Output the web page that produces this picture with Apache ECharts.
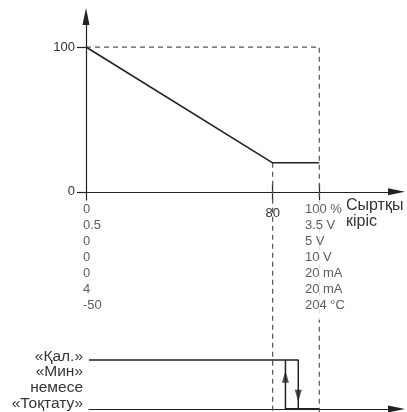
<!DOCTYPE html>
<html>
<head>
<meta charset="utf-8">
<script src="https://cdn.jsdelivr.net/npm/echarts@6/dist/echarts.min.js"></script>
<style>
html,body{margin:0;padding:0;background:#fff;}
#c{width:407px;height:412px;}
</style>
</head>
<body>
<div id="c"></div>
<script>
// ---- data ----
const curveX = [0, 80, 100];
const curveY = [100, 20, 20];
const yTicks = [0, 100];
const xTickLabelValues = [80];
const xTicks = [80, 100];
const leftColumn = ['0', '0.5', '0', '0', '0', '4', '-50'];
const rightColumn = ['100 %', '3.5 V', '5 V', '10 V', '20 mA', '20 mA', '204 °C'];
const columnAt = [0, 100];
const axisName = 'Сыртқы\nкіріс';
const stateHigh = 1, stateLow = 0;
const switchOn = 85.5;   // relay returns to "Қал." (up arrow)
const switchOff = 91;    // relay goes to "Мин"/"Тоқтату" (down arrow)
const lowEnd = 100;
const highLabel = ['«Қал.»'];
const lowLabel = ['«Мин»', 'немесе', '«Тоқтату»'];

// ---- layout (styles) ----
const W = 407, H = 412;
const FONT = '"Liberation Sans", Arial, sans-serif';
const ink = '#222';
const textColor = '#333';
const dashColor = '#555';
const up = {left: 86, right: 10.5, top: 16.5, bottom: 212, xMax: 133.1, yMin: -5.7, yMax: 121.1};
const lo = {left: 89, right: 10.5, top: 360, bottom: 3, xMin: 1.29, xMax: 133.1};
const pxPerY = (H - up.top - up.bottom) / (up.yMax - up.yMin);
const zeroPy = up.top + up.yMax * pxPerY;
const yCanvasBottom = -(H - zeroPy) / pxPerY;

const chart = echarts.init(document.getElementById('c'), null, {renderer: 'canvas'});

const line = curveX.map((x, i) => [x, curveY[i]]);
const guide100 = [[curveX[0], yTicks[1]], [curveX[2], yTicks[1]], [curveX[2], yCanvasBottom]];
const guide80 = [[curveX[1], curveY[1]], [curveX[1], yCanvasBottom]];

const columnTexts = [leftColumn, rightColumn];
const columnOffsets = [[-3, 9.5], [-14.3, 9.5]];
const columnBg = ['transparent', '#fff'];

// label lines + a bottom spacer line to lift the block (spacer height in px)
const lowerLabelAxis = (value, lines, spacer) => ({
  type: 'value', gridIndex: 1, min: stateLow, max: stateHigh, position: 'left',
  splitLine: {show: false}, axisLine: {show: false}, axisTick: {show: false},
  axisLabel: {
    customValues: [value], margin: 6, color: textColor, fontFamily: FONT,
    align: 'right', verticalAlign: 'middle',
    formatter: () => lines.map(s => '{t|' + s + '}').join('\n') + '\n{s| }',
    rich: {
      t: {fontSize: 15.5, lineHeight: 16, color: textColor, fontFamily: FONT},
      s: {fontSize: 1, lineHeight: spacer}
    }
  }
});

const option = {
  animation: false,
  textStyle: {fontFamily: FONT},
  grid: [
    {left: up.left, right: up.right, top: up.top, bottom: up.bottom, containLabel: false, outerBoundsMode: 'none'},
    {left: lo.left, right: lo.right, top: lo.top, bottom: lo.bottom, containLabel: false, outerBoundsMode: 'none'}
  ],
  xAxis: [
    {
      type: 'value', gridIndex: 0, min: 0, max: up.xMax, position: 'bottom',
      splitLine: {show: false},
      axisLine: {onZero: true, onZeroAxisIndex: 0, lineStyle: {color: ink, width: 1.2}, symbol: ['none', 'triangle'], symbolSize: [7, 17]},
      axisTick: {show: false},
      axisLabel: {customValues: xTickLabelValues, margin: 6, fontSize: 13, color: textColor, fontFamily: FONT,
                  backgroundColor: '#fff', padding: [1, 0, 1, 0]},
      name: axisName, nameLocation: 'end', nameGap: -50.5, nameMoveOverlap: false,
      nameTextStyle: {align: 'left', verticalAlign: 'top', fontSize: 16, lineHeight: 16.7, color: textColor, padding: [5, 0, 0, 0], fontFamily: FONT}
    },
    {
      // tick marks crossing the axis: drawn upward from the grid's bottom edge
      type: 'value', gridIndex: 0, min: 0, max: up.xMax, position: 'bottom',
      splitLine: {show: false},
      axisLine: {show: false, onZero: false},
      axisTick: {show: true, inside: true, customValues: xTicks, length: 16, lineStyle: {color: ink, width: 1.2}},
      axisLabel: {show: false}
    },
    {
      type: 'value', gridIndex: 1, min: lo.xMin, max: lo.xMax,
      splitLine: {show: false},
      axisLine: {onZero: false, lineStyle: {color: ink, width: 1.2}, symbol: ['none', 'triangle'], symbolSize: [7, 17]},
      axisTick: {show: false},
      axisLabel: {show: false}
    }
  ],
  yAxis: [
    {
      type: 'value', gridIndex: 0, min: up.yMin, max: up.yMax,
      splitLine: {show: false},
      axisLine: {onZero: true, lineStyle: {color: ink, width: 1.2}, symbol: ['none', 'triangle'], symbolSize: [7, 17]},
      axisTick: {show: true, customValues: yTicks, length: 9, lineStyle: {color: ink, width: 1.2}},
      axisLabel: {customValues: yTicks, margin: 11, fontSize: 13, color: textColor, fontFamily: FONT}
    },
    lowerLabelAxis(stateHigh, highLabel, 6),
    lowerLabelAxis(stateLow, lowLabel, 42)
  ],
  series: [
    {
      type: 'line', xAxisIndex: 0, yAxisIndex: 0, data: line, symbol: 'none',
      lineStyle: {color: ink, width: 1.6}, z: 5
    },
    {
      type: 'line', xAxisIndex: 0, yAxisIndex: 0, data: guide100, symbol: 'none', clip: false,
      lineStyle: {color: dashColor, width: 1.2, type: [5, 4]}, z: 3
    },
    {
      type: 'line', xAxisIndex: 0, yAxisIndex: 0, data: guide80, symbol: 'none', clip: false,
      lineStyle: {color: dashColor, width: 1.2, type: [5, 4]}, z: 3
    },
    {
      type: 'scatter', xAxisIndex: 0, yAxisIndex: 0, symbolSize: 0.1, silent: true, z: 10,
      itemStyle: {color: 'transparent'},
      data: columnAt.map((x, i) => ({
        value: [x, 0],
        label: {
          show: true, position: columnOffsets[i], align: 'left', verticalAlign: 'top',
          formatter: columnTexts[i].join('\n'), fontSize: 13, lineHeight: 16.07, color: textColor, fontFamily: FONT,
          backgroundColor: columnBg[i], padding: [0, 2, 6, 0]
        }
      }))
    },
    {
      type: 'line', xAxisIndex: 2, yAxisIndex: 1, clip: false, symbol: 'none',
      data: [[lo.xMin, stateHigh], [switchOff, stateHigh], [switchOff, stateLow]],
      lineStyle: {color: ink, width: 1.5}
    },
    {
      type: 'line', xAxisIndex: 2, yAxisIndex: 1, clip: false, symbol: 'none',
      data: [[switchOn, stateLow], [switchOn, stateHigh]],
      lineStyle: {color: ink, width: 1.5}
    },
    {
      type: 'line', xAxisIndex: 2, yAxisIndex: 1, clip: false, symbol: 'none',
      data: [[switchOn, stateLow], [lowEnd, stateLow]],
      lineStyle: {color: ink, width: 2.2}, z: 4
    },
    {
      type: 'scatter', xAxisIndex: 2, yAxisIndex: 1, clip: false, silent: true,
      symbol: 'triangle', symbolSize: [7, 12],
      itemStyle: {color: ink},
      data: [
        {value: [switchOn, 0.66], symbolRotate: 0},
        {value: [switchOff, 0.27], symbolRotate: 180}
      ], z: 6
    }
  ]
};
chart.setOption(option);
</script>
</body>
</html>
